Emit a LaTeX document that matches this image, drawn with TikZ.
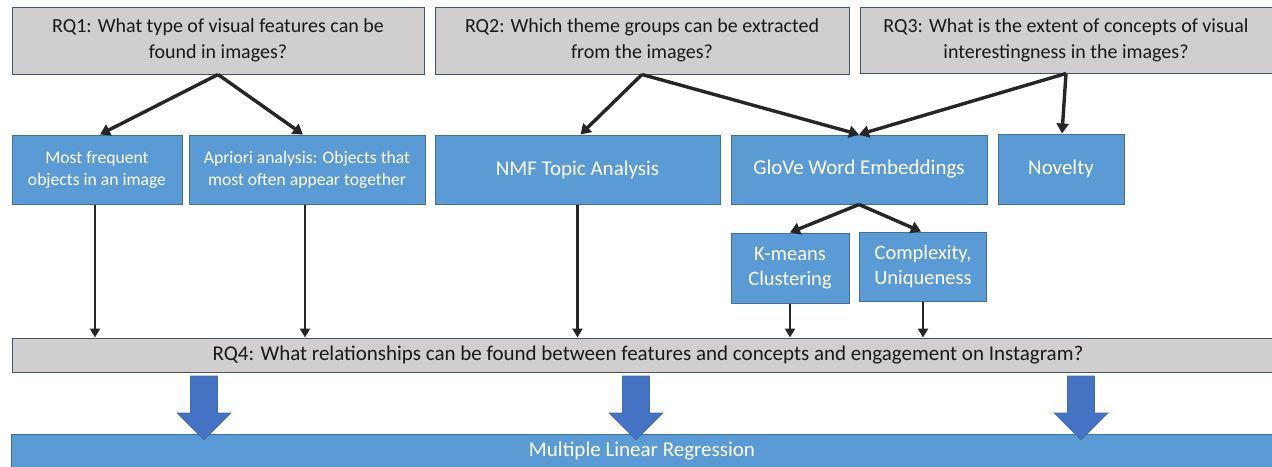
\documentclass[tikz,border=0pt]{standalone}
\usepackage{fontspec}
\setmainfont{Carlito}
\usetikzlibrary{arrows.meta,calc}
\definecolor{boxblue}{HTML}{5B9BD5}
\definecolor{boxborder}{HTML}{41719C}
\definecolor{graybox}{HTML}{D0CECE}
\definecolor{grayborder}{HTML}{44546A}
\definecolor{bigarrow}{HTML}{4472C4}
\definecolor{linec}{HTML}{262626}
\tikzset{
  rqbox/.style={draw=grayborder, fill=graybox, line width=1pt, inner sep=0pt, align=center, text=black!90, font=\fontsize{20}{26}\selectfont},
  bluebox/.style={draw=boxborder, fill=boxblue, line width=1pt, inner sep=0pt, align=center, text=white},
  conn/.style={draw=linec, line width=3.4pt, -{Triangle[length=10pt,width=12pt]}},
  connsmall/.style={draw=linec, line width=2.8pt, -{Triangle[length=9pt,width=10pt]}},
  blockarrow/.style={fill=bigarrow, draw=boxborder, line width=0.6pt}
}
\begin{document}
\begin{tikzpicture}[x=1pt,y=-1pt]
\clip (0,0) rectangle (1272,466);
\fill[white] (0,0) rectangle (1272,466);
% top questions
\node[rqbox, minimum width=412pt, minimum height=67pt] (rq1) at (218,40.5) {RQ1: What type of visual features can be\\found in images?};
\node[rqbox, minimum width=414pt, minimum height=67pt] (rq2) at (642,40.5) {RQ2: Which theme groups can be extracted\\from the images?};
\node[rqbox, minimum width=412pt, minimum height=66pt] (rq3) at (1066,40) {RQ3: What is the extent of concepts of visual\\interestingness in the images?};
% method boxes
\node[bluebox, minimum width=170pt, minimum height=69pt, font=\fontsize{17.6}{22}\selectfont] (mf) at (97,169.5) {Most frequent\\objects in an image};
\node[bluebox, minimum width=236pt, minimum height=69pt, font=\fontsize{17.6}{22}\selectfont] (ap) at (307,169.5) {Apriori analysis: Objects that\\most often appear together};
\node[bluebox, minimum width=285pt, minimum height=69pt, font=\fontsize{21}{26}\selectfont] (nmf) at (577.5,169.5) {NMF Topic Analysis};
\node[bluebox, minimum width=256pt, minimum height=69pt, font=\fontsize{21}{26}\selectfont] (glove) at (859,169.5) {GloVe Word Embeddings};
\node[bluebox, minimum width=126pt, minimum height=70pt, font=\fontsize{21}{26}\selectfont] (nov) at (1061,169) {Novelty};
\node[bluebox, minimum width=118pt, minimum height=70pt, font=\fontsize{20.5}{25}\selectfont] (km) at (790,268) {K-means\\Clustering};
\node[bluebox, minimum width=127pt, minimum height=69pt, font=\fontsize{20.5}{25}\selectfont] (cx) at (923,266.5) {Complexity,\\Uniqueness};
% RQ4 and regression
\node[rqbox, minimum width=1262pt, minimum height=34pt, font=\fontsize{21}{26}\selectfont] (rq4) at (643,355) {\hspace*{10pt}RQ4: What relationships can be found between features and concepts and engagement on Instagram?};
\node[bluebox, minimum width=1262pt, minimum height=34pt, anchor=north] (mlr) at (642,434) {};
\node[text=white, font=\fontsize{21}{26}\selectfont] (mlrt) at (642,451) {Multiple Linear Regression};
% connector helper coordinates
\coordinate (mfs) at ($(mf.south)+(-2,0)$);
\coordinate (aps) at ($(ap.south)+(-2,0)$);
% connectors
\draw[conn] (rq1.south) -- ($(mf.north)+(3,0)$);
\draw[conn] (rq1.south) -- ($(ap.north)+(-4,0)$);
\draw[conn] (rq2.south) -- ($(nmf.north)+(3,0)$);
\draw[conn] (rq2.south) -- (glove.north);
\draw[conn] (rq3.south) -- (glove.north);
\draw[conn] (rq3.south) -- ($(nov.north)+(1,0)$);
\draw[conn] (glove.south) -- (km.north);
\draw[conn] (glove.south) -- ($(cx.north)+(-2,0)$);
\draw[connsmall] (mfs) -- (mfs |- rq4.north);
\draw[connsmall] (aps) -- (aps |- rq4.north);
\draw[connsmall] (nmf.south) -- (nmf.south |- rq4.north);
\draw[connsmall] (km.south) -- (km.south |- rq4.north);
\draw[connsmall] (cx.south) -- (cx.south |- rq4.north);
% block arrows
\foreach \cx in {204,636,1081}{
  \draw[blockarrow] (\cx-13.5,376) -- (\cx+13.5,376) -- (\cx+13.5,413) -- (\cx+27,413) -- (\cx,440) -- (\cx-27,413) -- (\cx-13.5,413) -- cycle;
}
\end{tikzpicture}
\end{document}
